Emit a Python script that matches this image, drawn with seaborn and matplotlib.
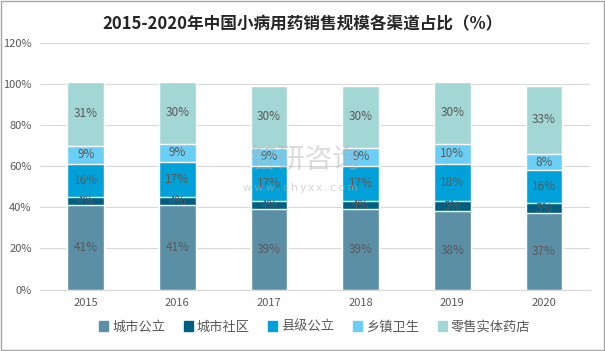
import numpy as np
import pandas as pd
import matplotlib.pyplot as plt
import seaborn as sns

years = ['2015', '2016', '2017', '2018', '2019', '2020']
channels = ['城市公立', '城市社区', '县级公立', '乡镇卫生', '零售实体药店']
city_public = [41, 41, 39, 39, 38, 37]
city_community = [4, 4, 4, 4, 5, 5]
county_public = [16, 17, 17, 17, 18, 16]
township = [9, 9, 9, 9, 10, 8]
retail = [31, 30, 30, 30, 30, 33]
colors = ['#5B8FA6', '#005E80', '#00A1D9', '#6ACEF5', '#A2D7D5']

sns.set_style('white')
plt.rcParams['font.family'] = ['Noto Sans CJK SC', 'DejaVu Sans']

series = [city_public, city_community, county_public, township, retail]
df = pd.DataFrame(dict(zip(channels, series)), index=years)
tops = df.cumsum(axis=1)

fig = plt.figure(figsize=(6.05, 3.51), dpi=100)
ax = fig.add_axes([0.066, 0.175, 0.909, 0.703])

# draw cumulative totals from the top down so each bar covers the one below
for name, col in reversed(list(zip(channels, colors))):
    sns.barplot(x=years, y=tops[name].values, color=col, width=0.4,
                saturation=1, ax=ax, zorder=2)

for i, yr in enumerate(years):
    bottom = 0
    for name in channels:
        v = df.loc[yr, name]
        ax.text(i, bottom + v / 2, f'{v}%', ha='center', va='center',
                fontsize=8.5, color='#595959', zorder=3)
        bottom += v

ax.set_ylim(0, 120)
ax.set_xlim(-0.5, 5.5)
ax.set_yticks(range(0, 121, 20))
ax.set_yticklabels([f'{t}%' for t in range(0, 121, 20)])
ax.tick_params(axis='both', labelsize=8, colors='#595959', length=0, pad=6)
ax.yaxis.grid(True, color='#D9D9D9', linewidth=0.8, zorder=0)
ax.set_axisbelow(True)
for s in ['left', 'right', 'top']:
    ax.spines[s].set_visible(False)
ax.spines['bottom'].set_color('#D9D9D9')
ax.set_xlabel('')
ax.set_ylabel('')

# watermark
fig.text(0.505, 0.545, '智研咨询', fontsize=20, color='#B0B0B0', alpha=0.45,
         ha='center', va='center', zorder=5)
fig.text(0.497, 0.465, 'w w w . c h y x x . c o m', fontsize=8, color='#B0B0B0',
         alpha=0.55, ha='center', va='center', zorder=5)

handles = [plt.Rectangle((0, 0), 1, 1, color=c) for c in colors]
fig.legend(handles, channels, loc='center', bbox_to_anchor=(0.52, 0.068),
           ncol=5, frameon=False, fontsize=9.5, handlelength=0.7,
           handleheight=0.7, columnspacing=1.4, handletextpad=0.3,
           labelcolor='#595959')

fig.suptitle('2015-2020年中国小病用药销售规模各渠道占比（%）', y=0.955,
             fontsize=12, fontweight='bold', color='#262626')

fig.patches.append(plt.Rectangle((0.001, 0.002), 0.997, 0.995,
                                 transform=fig.transFigure, fill=False,
                                 edgecolor='#A6A6A6', linewidth=1))

fig.savefig('out.png', dpi=100)
